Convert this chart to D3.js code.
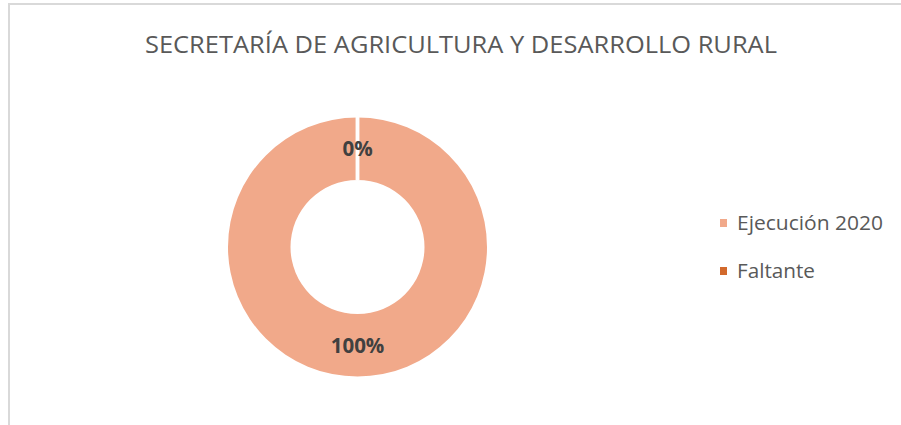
<!DOCTYPE html>
<html>
<head>
<meta charset="utf-8">
<script src="https://cdn.jsdelivr.net/npm/d3@7/dist/d3.min.js"></script>
<style>
  html, body { margin: 0; padding: 0; background: #fff; }
  svg { display: block; }
</style>
</head>
<body>
<svg id="chart" width="901" height="425"></svg>
<script>
const title = "SECRETARÍA DE AGRICULTURA Y DESARROLLO RURAL";
const categories = ["Ejecución 2020", "Faltante"];
const values = [100, 0];
const colors = ["#F1A98A", "#D2692C"];
const legendColors = ["#F1A98A", "#D2692C"];
const legendWidths = [146, 78];

const svg = d3.select("#chart");
const W = 901, H = 425;

// outer frame (only left and top visible)
svg.append("rect")
  .attr("x", 9).attr("y", 4)
  .attr("width", W + 10).attr("height", H + 10)
  .attr("fill", "#fff")
  .attr("stroke", "#D9D9D9")
  .attr("stroke-width", 2);

// title
svg.append("text")
  .attr("x", 461).attr("y", 53)
  .attr("text-anchor", "middle")
  .attr("font-family", "'Open Sans', sans-serif")
  .attr("font-size", 23)
  .attr("fill", "#595959")
  .attr("textLength", 632).attr("lengthAdjust", "spacingAndGlyphs")
  .text(title);

const cx = 357.5, cy = 247;
const outerR = 129.5, innerR = 67;

const pie = d3.pie().sort(null).value(d => d)(values);
const arc = d3.arc().innerRadius(innerR).outerRadius(outerR);

const g = svg.append("g").attr("transform", `translate(${cx},${cy})`);

g.selectAll("path.slice")
  .data(pie)
  .join("path")
  .attr("class", "slice")
  .attr("d", arc)
  .attr("fill", (d, i) => colors[i]);

// white slice borders
g.selectAll("line.sep")
  .data(pie)
  .join("line")
  .attr("class", "sep")
  .attr("x1", d => innerR * Math.sin(d.startAngle))
  .attr("y1", d => -innerR * Math.cos(d.startAngle))
  .attr("x2", d => (outerR + 2) * Math.sin(d.startAngle))
  .attr("y2", d => -(outerR + 2) * Math.cos(d.startAngle))
  .attr("stroke", "#fff")
  .attr("stroke-width", 3.5);

// data labels
const total = d3.sum(values);
g.selectAll("text.lbl")
  .data(pie)
  .join("text")
  .attr("class", "lbl")
  .attr("x", d => arc.centroid(d)[0])
  .attr("y", d => arc.centroid(d)[1])
  .attr("dy", "0.36em")
  .attr("text-anchor", "middle")
  .attr("font-family", "'Open Sans', sans-serif")
  .attr("font-weight", "bold")
  .attr("font-size", 20.5)
  .attr("fill", "#404040")
  .text(d => Math.round(d.data / total * 100) + "%");

// legend
const legend = svg.append("g");
const items = legend.selectAll("g.item")
  .data(categories)
  .join("g")
  .attr("class", "item")
  .attr("transform", (d, i) => `translate(720, ${219 + i * 48})`);
items.append("rect")
  .attr("width", 7).attr("height", 8)
  .attr("fill", (d, i) => legendColors[i]);
items.append("text")
  .attr("x", 17).attr("y", 8)
  .attr("dy", "0.15em")
  .attr("font-family", "'Open Sans', sans-serif")
  .attr("font-size", 19.5)
  .attr("fill", "#595959")
  .attr("textLength", (d, i) => legendWidths[i])
  .attr("lengthAdjust", "spacingAndGlyphs")
  .text(d => d);
</script>
</body>
</html>
